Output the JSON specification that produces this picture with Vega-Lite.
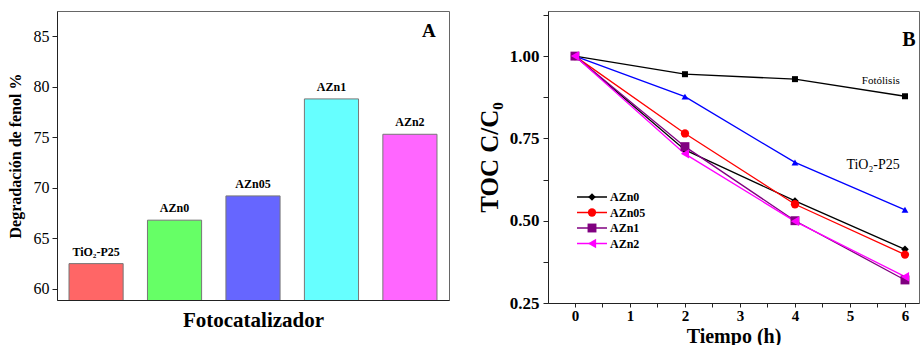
{
  "$schema": "https://vega.github.io/schema/vega-lite/v6.json",
  "padding": {"left": 6, "top": 10, "right": 0, "bottom": 0},
  "spacing": 26,
  "resolve": {
    "scale": {"color": "independent", "stroke": "independent", "shape": "independent", "size": "independent"},
    "legend": {"color": "independent", "stroke": "independent", "shape": "independent", "size": "independent"}
  },
  "config": {
    "font": "Liberation Serif",
    "view": {"stroke": "#666", "strokeWidth": 1},
    "axis": {
      "labelFont": "Liberation Serif", "titleFont": "Liberation Serif",
      "labelColor": "#000", "titleColor": "#000",
      "domainColor": "#222", "tickColor": "#222",
      "grid": false, "labelFontWeight": "bold", "titleFontWeight": "bold"
    }
  },
  "hconcat": [
    {
      "width": 392,
      "height": 289,
      "data": {"values": [
        {"cat": "TiO₂-P25", "v": 62.5},
        {"cat": "AZn0", "v": 66.8},
        {"cat": "AZn05", "v": 69.2},
        {"cat": "AZn1", "v": 78.8},
        {"cat": "AZn2", "v": 75.3}
      ]},
      "layer": [
        {
          "mark": {"type": "bar", "stroke": "#777", "strokeWidth": 1, "clip": true},
          "encoding": {
            "x": {"field": "cat", "type": "nominal", "sort": null,
              "scale": {"paddingInner": 0.31, "paddingOuter": 0.153},
              "axis": {"labels": false, "ticks": false, "title": "Fotocatalizador", "titleFontSize": 21, "titlePadding": 9}},
            "y": {"field": "v", "type": "quantitative",
              "scale": {"domain": [58.9, 87.5], "nice": false, "zero": false},
              "axis": {"values": [60, 62.5, 65, 67.5, 70, 72.5, 75, 77.5, 80, 82.5, 85, 87.5],
                "labelExpr": "datum.value % 5 == 0 ? datum.label : ''",
                "labelFontSize": 16, "labelFontWeight": "normal", "tickSize": 5, "labelPadding": 3,
                "title": "Degradación de fenol %", "titleFontSize": 16, "titlePadding": 10}},
            "color": {"field": "cat", "type": "nominal",
              "scale": {"domain": ["TiO₂-P25", "AZn0", "AZn05", "AZn1", "AZn2"],
                "range": ["#FF6666", "#66FF66", "#6666FF", "#66FFFF", "#FF66FF"]},
              "legend": null}
          }
        },
        {
          "mark": {"type": "text", "dy": -5, "fontWeight": "bold", "fontSize": 12, "baseline": "bottom", "font": "Liberation Serif"},
          "encoding": {
            "x": {"field": "cat", "type": "nominal", "sort": null},
            "y": {"field": "v", "type": "quantitative"},
            "text": {"field": "cat"}
          }
        },
        {
          "data": {"values": [{"cat": "AZn2", "v": 85.5, "lab": "A"}]},
          "mark": {"type": "text", "dx": 19, "fontWeight": "bold", "fontSize": 19, "font": "Liberation Serif"},
          "encoding": {
            "x": {"field": "cat", "type": "nominal", "sort": null},
            "y": {"field": "v", "type": "quantitative"},
            "text": {"field": "lab"}
          }
        }
      ]
    },
    {
      "width": 371,
      "height": 292,
      "data": {"values": [
        {"s": "Fotólisis", "t": 0, "c": 1.0},
        {"s": "Fotólisis", "t": 2, "c": 0.945},
        {"s": "Fotólisis", "t": 4, "c": 0.93},
        {"s": "Fotólisis", "t": 6, "c": 0.878},
        {"s": "TiO2-P25", "t": 0, "c": 1.0},
        {"s": "TiO2-P25", "t": 2, "c": 0.877},
        {"s": "TiO2-P25", "t": 4, "c": 0.677},
        {"s": "TiO2-P25", "t": 6, "c": 0.533},
        {"s": "AZn0", "t": 0, "c": 1.0},
        {"s": "AZn0", "t": 2, "c": 0.715},
        {"s": "AZn0", "t": 4, "c": 0.56},
        {"s": "AZn0", "t": 6, "c": 0.413},
        {"s": "AZn05", "t": 0, "c": 1.0},
        {"s": "AZn05", "t": 2, "c": 0.765},
        {"s": "AZn05", "t": 4, "c": 0.55},
        {"s": "AZn05", "t": 6, "c": 0.397},
        {"s": "AZn1", "t": 0, "c": 1.0},
        {"s": "AZn1", "t": 2, "c": 0.725},
        {"s": "AZn1", "t": 4, "c": 0.50},
        {"s": "AZn1", "t": 6, "c": 0.32},
        {"s": "AZn2", "t": 0, "c": 1.0},
        {"s": "AZn2", "t": 2, "c": 0.703},
        {"s": "AZn2", "t": 4, "c": 0.498},
        {"s": "AZn2", "t": 6, "c": 0.33}
      ]},
      "encoding": {
        "x": {"field": "t", "type": "quantitative",
          "scale": {"domain": [-0.49, 6.255], "nice": false, "zero": false},
          "axis": {"values": [0, 0.5, 1, 1.5, 2, 2.5, 3, 3.5, 4, 4.5, 5, 5.5, 6],
            "labelExpr": "datum.value % 1 == 0 ? format(datum.value, 'd') : ''",
            "labelFontSize": 15, "tickSize": 4, "labelPadding": 1,
            "title": "Tiempo (h)", "titleFontSize": 20, "titlePadding": 3}},
        "y": {"field": "c", "type": "quantitative",
          "scale": {"domain": [0.25, 1.137], "nice": false, "zero": false},
          "axis": {"values": [0.25, 0.375, 0.5, 0.625, 0.75, 0.875, 1.0, 1.125],
            "labelExpr": "(datum.value * 4) % 1 == 0 ? format(datum.value, '.2f') : ''",
            "labelFontSize": 17, "tickSize": 5, "labelPadding": 4,
            "title": "TOC C/C₀", "titleFontSize": 25, "titlePadding": 7}}
      },
      "layer": [
        {
          "mark": {"type": "line", "strokeWidth": 1.3},
          "encoding": {
            "stroke": {"field": "s", "type": "nominal",
              "scale": {"domain": ["AZn0", "AZn05", "AZn1", "AZn2", "Fotólisis", "TiO2-P25"],
                "range": ["#000000", "#FF0000", "#800080", "#FF00FF", "#000000", "#0000FF"]},
              "legend": {"orient": "none", "legendX": 38, "legendY": 180, "title": null,
                "values": ["AZn0", "AZn05", "AZn1", "AZn2"],
                "symbolType": "M-3,0H3", "symbolSize": 100, "symbolStrokeWidth": 1.5,
                "labelFont": "Liberation Serif", "labelFontWeight": "bold", "labelFontSize": 12,
                "labelColor": "#000", "labelOffset": 12, "rowPadding": 3.5, "padding": 0}}
          }
        },
        {
          "mark": {"type": "point", "filled": true, "opacity": 1},
          "encoding": {
            "color": {"field": "s", "type": "nominal",
              "scale": {"domain": ["Fotólisis", "TiO2-P25", "AZn0", "AZn05", "AZn1", "AZn2"],
                "range": ["#000000", "#0000FF", "#000000", "#FF0000", "#800080", "#FF00FF"]},
              "legend": {"orient": "none", "legendX": 38, "legendY": 180, "title": null,
                "values": ["AZn0", "AZn05", "AZn1", "AZn2"],
                "symbolSize": 60, "symbolStrokeWidth": 0, "labelExpr": "''",
                "labelFontSize": 12, "labelFont": "Liberation Serif", "labelFontWeight": "bold",
                "rowPadding": 3.5, "padding": 0}},
            "shape": {"field": "s", "type": "nominal",
              "scale": {"domain": ["Fotólisis", "TiO2-P25", "AZn0", "AZn05", "AZn1", "AZn2"],
                "range": ["square", "triangle-up", "diamond", "circle", "square", "triangle-left"]}},
            "size": {"field": "s", "type": "nominal",
              "scale": {"domain": ["Fotólisis", "TiO2-P25", "AZn0", "AZn05", "AZn1", "AZn2"],
                "range": [36, 90, 80, 36, 64, 70]},
              "legend": null}
          }
        },
        {
          "data": {"values": [
            {"t": 5.56, "c": 0.924, "lab": "Fotólisis"}
          ]},
          "mark": {"type": "text", "font": "Liberation Serif", "fontSize": 11},
          "encoding": {"text": {"field": "lab"}}
        },
        {
          "data": {"values": [
            {"t": 5.42, "c": 0.669, "lab": "TiO₂-P25"}
          ]},
          "mark": {"type": "text", "font": "Liberation Serif", "fontSize": 14},
          "encoding": {"text": {"field": "lab"}}
        },
        {
          "data": {"values": [{"t": 6.07, "c": 1.05, "lab": "B"}]},
          "mark": {"type": "text", "font": "Liberation Serif", "fontSize": 20, "fontWeight": "bold"},
          "encoding": {"text": {"field": "lab"}}
        }
      ]
    }
  ]
}
